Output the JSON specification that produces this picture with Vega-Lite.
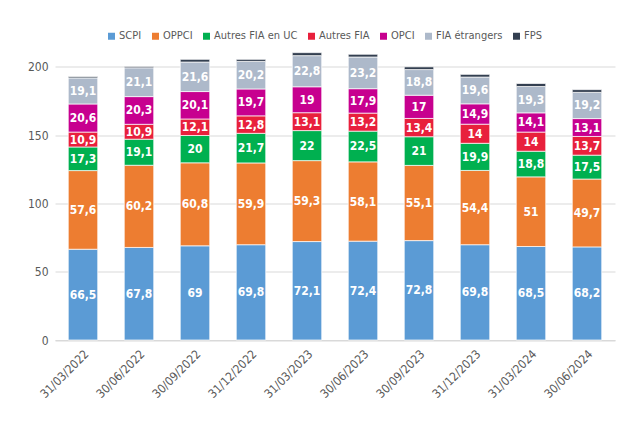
{
  "$schema": "https://vega.github.io/schema/vega-lite/v6.json",
  "width": 560,
  "height": 293.5,
  "autosize": {"type": "none"},
  "padding": {"left": 55, "top": 46.5, "right": 6, "bottom": 84},
  "background": "white",
  "config": {
    "locale": {"number": {"decimal": ",", "thousands": " ", "grouping": [3], "currency": ["", " €"]}},
    "view": {"stroke": null},
    "font": "'DejaVu Sans Condensed', Roboto"
  },
  "data": {"values": [
    {"d": "31/03/2022", "s": "SCPI", "v": 66.5},
    {"d": "31/03/2022", "s": "OPPCI", "v": 57.6},
    {"d": "31/03/2022", "s": "Autres FIA en UC", "v": 17.3},
    {"d": "31/03/2022", "s": "Autres FIA", "v": 10.9},
    {"d": "31/03/2022", "s": "OPCI", "v": 20.6},
    {"d": "31/03/2022", "s": "FIA étrangers", "v": 19.1},
    {"d": "31/03/2022", "s": "FPS", "v": 1.0},
    {"d": "30/06/2022", "s": "SCPI", "v": 67.8},
    {"d": "30/06/2022", "s": "OPPCI", "v": 60.2},
    {"d": "30/06/2022", "s": "Autres FIA en UC", "v": 19.1},
    {"d": "30/06/2022", "s": "Autres FIA", "v": 10.9},
    {"d": "30/06/2022", "s": "OPCI", "v": 20.3},
    {"d": "30/06/2022", "s": "FIA étrangers", "v": 21.1},
    {"d": "30/06/2022", "s": "FPS", "v": 1.0},
    {"d": "30/09/2022", "s": "SCPI", "v": 69},
    {"d": "30/09/2022", "s": "OPPCI", "v": 60.8},
    {"d": "30/09/2022", "s": "Autres FIA en UC", "v": 20},
    {"d": "30/09/2022", "s": "Autres FIA", "v": 12.1},
    {"d": "30/09/2022", "s": "OPCI", "v": 20.1},
    {"d": "30/09/2022", "s": "FIA étrangers", "v": 21.6},
    {"d": "30/09/2022", "s": "FPS", "v": 2.0},
    {"d": "31/12/2022", "s": "SCPI", "v": 69.8},
    {"d": "31/12/2022", "s": "OPPCI", "v": 59.9},
    {"d": "31/12/2022", "s": "Autres FIA en UC", "v": 21.7},
    {"d": "31/12/2022", "s": "Autres FIA", "v": 12.8},
    {"d": "31/12/2022", "s": "OPCI", "v": 19.7},
    {"d": "31/12/2022", "s": "FIA étrangers", "v": 20.2},
    {"d": "31/12/2022", "s": "FPS", "v": 1.5},
    {"d": "31/03/2023", "s": "SCPI", "v": 72.1},
    {"d": "31/03/2023", "s": "OPPCI", "v": 59.3},
    {"d": "31/03/2023", "s": "Autres FIA en UC", "v": 22},
    {"d": "31/03/2023", "s": "Autres FIA", "v": 13.1},
    {"d": "31/03/2023", "s": "OPCI", "v": 19},
    {"d": "31/03/2023", "s": "FIA étrangers", "v": 22.8},
    {"d": "31/03/2023", "s": "FPS", "v": 2.2},
    {"d": "30/06/2023", "s": "SCPI", "v": 72.4},
    {"d": "30/06/2023", "s": "OPPCI", "v": 58.1},
    {"d": "30/06/2023", "s": "Autres FIA en UC", "v": 22.5},
    {"d": "30/06/2023", "s": "Autres FIA", "v": 13.2},
    {"d": "30/06/2023", "s": "OPCI", "v": 17.9},
    {"d": "30/06/2023", "s": "FIA étrangers", "v": 23.2},
    {"d": "30/06/2023", "s": "FPS", "v": 2.0},
    {"d": "30/09/2023", "s": "SCPI", "v": 72.8},
    {"d": "30/09/2023", "s": "OPPCI", "v": 55.1},
    {"d": "30/09/2023", "s": "Autres FIA en UC", "v": 21},
    {"d": "30/09/2023", "s": "Autres FIA", "v": 13.4},
    {"d": "30/09/2023", "s": "OPCI", "v": 17},
    {"d": "30/09/2023", "s": "FIA étrangers", "v": 18.8},
    {"d": "30/09/2023", "s": "FPS", "v": 2.0},
    {"d": "31/12/2023", "s": "SCPI", "v": 69.8},
    {"d": "31/12/2023", "s": "OPPCI", "v": 54.4},
    {"d": "31/12/2023", "s": "Autres FIA en UC", "v": 19.9},
    {"d": "31/12/2023", "s": "Autres FIA", "v": 14},
    {"d": "31/12/2023", "s": "OPCI", "v": 14.9},
    {"d": "31/12/2023", "s": "FIA étrangers", "v": 19.6},
    {"d": "31/12/2023", "s": "FPS", "v": 2.0},
    {"d": "31/03/2024", "s": "SCPI", "v": 68.5},
    {"d": "31/03/2024", "s": "OPPCI", "v": 51},
    {"d": "31/03/2024", "s": "Autres FIA en UC", "v": 18.8},
    {"d": "31/03/2024", "s": "Autres FIA", "v": 14},
    {"d": "31/03/2024", "s": "OPCI", "v": 14.1},
    {"d": "31/03/2024", "s": "FIA étrangers", "v": 19.3},
    {"d": "31/03/2024", "s": "FPS", "v": 2.2},
    {"d": "30/06/2024", "s": "SCPI", "v": 68.2},
    {"d": "30/06/2024", "s": "OPPCI", "v": 49.7},
    {"d": "30/06/2024", "s": "Autres FIA en UC", "v": 17.5},
    {"d": "30/06/2024", "s": "Autres FIA", "v": 13.7},
    {"d": "30/06/2024", "s": "OPCI", "v": 13.1},
    {"d": "30/06/2024", "s": "FIA étrangers", "v": 19.2},
    {"d": "30/06/2024", "s": "FPS", "v": 2.0}
  ]},
  "transform": [
    {"calculate": "indexof(['SCPI','OPPCI','Autres FIA en UC','Autres FIA','OPCI','FIA étrangers','FPS'], datum.s)", "as": "k"},
    {"stack": "v", "groupby": ["d"], "sort": [{"field": "k", "order": "ascending"}], "as": ["v0", "v1"]},
    {"calculate": "(datum.v0 + datum.v1) / 2", "as": "vm"}
  ],
  "layer": [
    {
      "mark": {"type": "bar", "stroke": "white", "strokeWidth": 0.7},
      "encoding": {
        "x": {
          "field": "d", "type": "nominal", "sort": null,
          "scale": {"paddingInner": 0.4737, "paddingOuter": 0.2368},
          "axis": {"title": null, "labelAngle": -45, "domainColor": "#d9d9d9", "domainWidth": 1, "ticks": false, "labelColor": "#595959", "labelFontSize": 12, "labelPadding": 8}
        },
        "y": {
          "field": "v0", "type": "quantitative",
          "scale": {"domain": [0, 215], "nice": false},
          "axis": {"title": null, "values": [0, 50, 100, 150, 200], "grid": true, "gridColor": "#d9d9d9", "domain": false, "ticks": false, "labelColor": "#595959", "labelFontSize": 12, "labelPadding": 7}
        },
        "y2": {"field": "v1"},
        "color": {
          "field": "s", "type": "nominal",
          "scale": {
            "domain": ["SCPI", "OPPCI", "Autres FIA en UC", "Autres FIA", "OPCI", "FIA étrangers", "FPS"],
            "range": ["#5B9BD5", "#ED7D31", "#00B050", "#E8203C", "#C7008F", "#ADB9CA", "#333F50"]
          },
          "legend": {
            "title": null, "orient": "none", "direction": "horizontal", "legendX": 51, "legendY": -16,
            "symbolType": "square", "symbolSize": 49, "symbolStrokeWidth": 0,
            "labelFontSize": 11, "labelColor": "#595959", "labelOffset": 2, "columnPadding": 8, "padding": 0
          }
        }
      }
    },
    {
      "transform": [{"filter": "datum.s !== 'FPS'"}],
      "mark": {"type": "text", "color": "white", "fontWeight": "bold", "fontSize": 12, "baseline": "middle", "align": "center"},
      "encoding": {
        "x": {"field": "d", "type": "nominal", "sort": null},
        "y": {"field": "vm", "type": "quantitative"},
        "text": {"field": "v", "type": "quantitative", "format": ".1~f"}
      }
    }
  ]
}
